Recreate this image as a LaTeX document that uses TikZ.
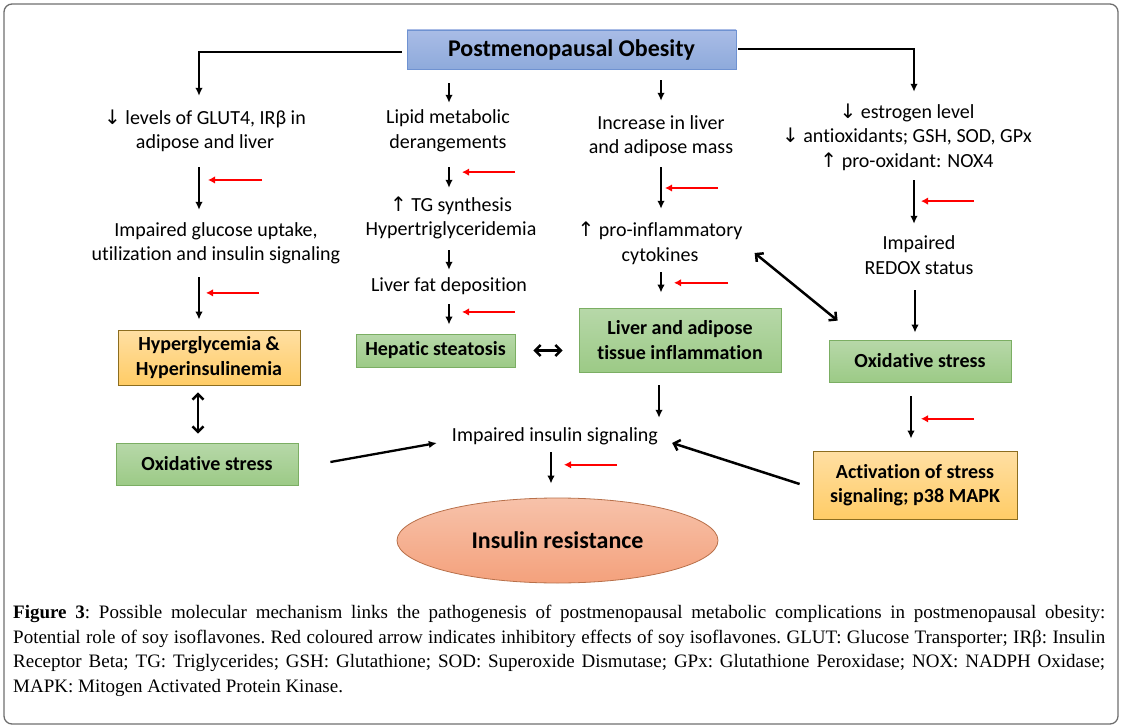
\documentclass[tikz,border=0pt]{standalone}
\usepackage{fontspec}
\setmainfont{Carlito}[Ligatures={NoCommon,NoContextual}, RawFeature={-liga;-clig;-dlig;-calt}]
\newfontfamily\capfont{Liberation Serif}
\newfontfamily\arrfont{DejaVu Sans}
\usetikzlibrary{arrows.meta,calc,shapes.geometric}
\definecolor{blueT}{HTML}{A9BCE6}
\definecolor{blueB}{HTML}{8EAADB}
\definecolor{blueD}{HTML}{6F92D1}
\definecolor{orT}{HTML}{FFDFA3}
\definecolor{orB}{HTML}{FFCC66}
\definecolor{orD}{HTML}{8C6D1F}
\definecolor{grT}{HTML}{B7D8A9}
\definecolor{grB}{HTML}{9CCA86}
\definecolor{grD}{HTML}{7BAE63}
\definecolor{salT}{HTML}{F7C2AA}
\definecolor{salB}{HTML}{F4A17C}
\definecolor{salD}{HTML}{B8704A}
\definecolor{frameC}{HTML}{6E6E6E}
\newcommand\myDown{{\arrfont\fontsize{20}{20}\selectfont ↓}}
\newcommand\myUp{{\arrfont\fontsize{20}{20}\selectfont ↑}}
\tikzset{
  txt/.style={inner sep=0pt, align=center, font=\fontsize{20}{24.5}\selectfont},
  one/.style={txt, minimum height=26pt},
  two/.style={txt, minimum height=50pt},
  three/.style={txt, minimum height=75pt},
  box/.style={draw, line width=0.8pt, inner sep=0pt, align=center, font=\bfseries\fontsize{20}{24.5}\selectfont},
  grbox/.style={box, draw=grD, top color=grT, bottom color=grB},
  orbox/.style={box, draw=orD, top color=orT, bottom color=orB},
  arr/.style={line width=2.3pt, -{Latex[length=8pt,width=7.5pt]}},
  conn/.style={line width=2.8pt, -{Latex[length=8pt,width=7.5pt]}},
  redarr/.style={line width=2.5pt, red, -{Latex[length=7pt,width=7.5pt]}},
  dbl/.style={line width=2.5pt, {Straight Barb[length=5.5pt,width=11pt]}-{Straight Barb[length=5.5pt,width=11pt]}},
  barb/.style={line width=2.5pt, -{Straight Barb[length=5.5pt,width=11pt]}},
}
\begin{document}
\begin{tikzpicture}[x=1pt,y=-1pt]
\useasboundingbox (0,0) rectangle (1121,727);
\draw[frameC, line width=1.3pt, rounded corners=8pt] (4,4) rectangle (1118,724);

% columns
\coordinate (c1) at (199,0);
\coordinate (c1b) at (198,0);
\coordinate (c2) at (449,0);
\coordinate (c3) at (661,0);
\coordinate (c3b) at (659,0);
\coordinate (c4) at (914,0);
\coordinate (c4b) at (915,0);
\coordinate (c4c) at (911,0);
\coordinate (c5) at (551,0);

% nodes
\node[box, draw=blueD, top color=blueT, bottom color=blueB, minimum width=329pt, minimum height=39pt, font=\bfseries\fontsize{24}{28}\selectfont] (pmo) at (571.5,49.5) {Postmenopausal Obesity};

\node[two] (t1) at (205,131) {\myDown{} levels of GLUT4, IRβ in\\adipose and liver};
\node[two] (t2) at (216,243.5) {Impaired glucose uptake,\\utilization and insulin signaling};
\node[orbox, minimum width=182pt, minimum height=55pt] (hyp) at (209,357.5) {Hyperglycemia \&\\Hyperinsulinemia};
\node[grbox, minimum width=182pt, minimum height=42pt] (ox1) at (207,464) {Oxidative stress};

\node[two] (t3) at (448,131) {Lipid metabolic\\derangements};
\node[two] (t4) at (451,218) {\myUp{} TG synthesis\\Hypertriglyceridemia};
\node[one] (t5) at (449,286) {Liver fat deposition};
\node[grbox, minimum width=159pt, minimum height=33pt] (hep) at (435.5,350.5) {Hepatic steatosis};

\node[two] (t6) at (661,136) {Increase in liver\\and adipose mass};
\node[two] (t7) at (660,243.5) {\myUp{} pro-inflammatory\\cytokines};
\node[grbox, minimum width=202pt, minimum height=64pt] (lai) at (680,340) {Liver and adipose\\tissue inflammation};

\node[one] (t8) at (555,436) {Impaired insulin signaling};
\node[ellipse, draw=salD, line width=0.8pt, top color=salT, bottom color=salB, minimum width=321pt, minimum height=85pt, inner sep=0pt, font=\bfseries\fontsize{24}{28}\selectfont] (ir) at (557.5,540.5) {Insulin resistance};

\node[three] (t9) at (907,137) {\myDown{} estrogen level\\\myDown{} antioxidants; GSH, SOD, GPx\\\myUp{} pro-oxidant: NOX4};
\node[two] (t10) at (919,255) {Impaired\\REDOX status};
\node[grbox, minimum width=182pt, minimum height=42pt] (ox2) at (920,361) {Oxidative stress};
\node[orbox, minimum width=204pt, minimum height=68pt] (act) at (915,485) {Activation of stress\\signaling; p38 MAPK};

% connectors from top box
\draw[conn] ($(pmo.west)+(-5pt,-2.5pt)$) -| ($(t1.north -| c1)+(0,10pt)$);
\draw[conn] ($(pmo.east)+(2pt,0.5pt)$) -| ($(t9.north -| c4)+(0,7.5pt)$);
\draw[arr] ($(pmo.south -| c2)+(0,-14pt)$) -- ($(t3.north -| c2)+(0,3pt)$);
\draw[arr] ($(pmo.south -| c3)+(0,-11pt)$) -- ($(t6.north -| c3)+(0,10pt)$);

% left column
\draw[arr] ($(t1.south -| c1)+(0,-11pt)$) -- ($(t2.north -| c1)+(0,8.5pt)$) coordinate[pos=0.3] (m1);
\draw[redarr] ($(m1)+(63pt,0)$) -- ($(m1)+(9pt,0)$);
\draw[arr] ($(t2.south -| c1)+(0,-8.5pt)$) -- ($(hyp.north -| c1)+(0,10pt)$) coordinate[pos=0.37] (m2);
\draw[redarr] ($(m2)+(60pt,0)$) -- ($(m2)+(7pt,0)$);
\draw[dbl] ($(hyp.south -| c1b)+(0,-7pt)$) -- ($(ox1.north -| c1b)+(0,9pt)$);
\draw[arr] ($(ox1.east)+(32pt,2pt)$) -- ($(t8.west)+(-15pt,-7pt)$);

% middle-left column
\draw[arr] ($(t3.south -| c2)+(0,-11pt)$) -- ($(t4.north -| c2)+(0,5pt)$) coordinate[pos=0.24] (m3);
\draw[redarr] ($(m3)+(66pt,0)$) -- ($(m3)+(13pt,0)$);
\draw[arr] ($(t4.south -| c2)+(0,-7pt)$) -- ($(t5.north -| c2)+(0,3pt)$);
\draw[arr] ($(t5.south -| c2)+(0,-5pt)$) -- ($(hep.north -| c2)+(0,9pt)$) coordinate[pos=0.38] (m4);
\draw[redarr] ($(m4)+(66pt,0)$) -- ($(m4)+(13pt,0)$);
\draw[dbl] ($(hep.east)+(18pt,0)$) -- ($(hep.east -| lai.west)+(-16pt,0)$);

% middle column
\draw[arr] ($(t6.south -| c3)+(0,-6pt)$) -- ($(t7.north -| c3)+(0,9.5pt)$) coordinate[pos=0.5] (m5);
\draw[redarr] ($(m5)+(57pt,0)$) -- ($(m5)+(4pt,0)$);
\draw[arr] ($(t7.south -| c3)+(0,-3.5pt)$) -- ($(lai.north -| c3)+(0,15pt)$) coordinate[pos=0.52] (m6);
\draw[redarr] ($(m6)+(67pt,0)$) -- ($(m6)+(13pt,0)$);
\draw[dbl] ($(t7.east)+(12pt,-9.5pt)$) -- ($(ox2.north west)+(9pt,19pt)$);
\draw[arr] ($(lai.south -| c3b)+(0,-13pt)$) -- ($(t8.north -| c3b)+(0,5pt)$);
\draw[arr] ($(t8.south -| c5)+(0,-3pt)$) -- ($(ir.north -| c5)+(0,14pt)$) coordinate[pos=0.4] (m7);
\draw[redarr] ($(m7)+(66pt,0)$) -- ($(m7)+(13pt,0)$);
\draw[barb] ($(act.west)+(-13pt,1pt)$) -- ($(t8.east)+(14pt,-7pt)$);

% right column
\draw[arr] ($(t9.south -| c4)+(0,-5.5pt)$) -- ($(t10.north -| c4)+(0,6pt)$) coordinate[pos=0.48] (m8);
\draw[redarr] ($(m8)+(60pt,0)$) -- ($(m8)+(7pt,0)$);
\draw[arr] ($(t10.south -| c4b)+(0,-10pt)$) -- ($(ox2.north -| c4b)+(0,7pt)$);
\draw[arr] ($(ox2.south -| c4c)+(0,-14pt)$) -- ($(act.north -| c4c)+(0,12pt)$) coordinate[pos=0.53] (m9);
\draw[redarr] ($(m9)+(63pt,0)$) -- ($(m9)+(10pt,0)$);

% caption
\node[anchor=north west, inner sep=0pt, text width=1092pt, align=justify, font=\capfont\fontsize{19}{24.5}\selectfont] (cap) at (13,605) {\frenchspacing\textbf{Figure 3}: Possible molecular mechanism links the pathogenesis of postmenopausal metabolic complications in postmenopausal obesity:\linebreak
Potential role of soy isoflavones. Red coloured arrow indicates inhibitory effects of soy isoflavones. GLUT: Glucose Transporter; IRβ: Insulin\linebreak
Receptor Beta; TG: Triglycerides; GSH: Glutathione; SOD: Superoxide Dismutase; GPx: Glutathione Peroxidase; NOX: NADPH Oxidase;\linebreak
MAPK: Mitogen Activated Protein Kinase.};
\end{tikzpicture}
\end{document}
